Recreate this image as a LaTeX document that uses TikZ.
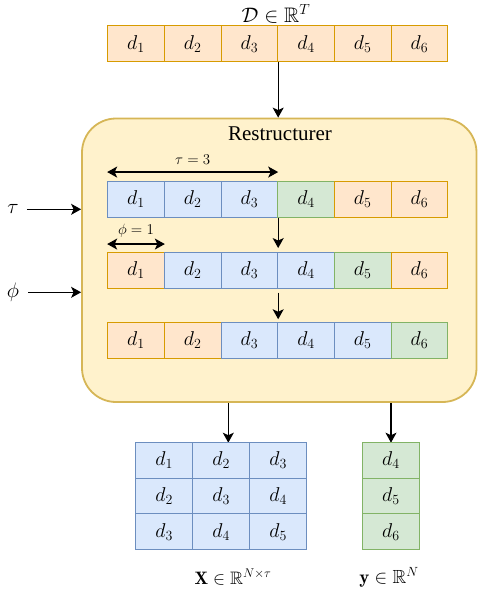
\RequirePackage{fix-cm}
\documentclass[tikz,border=0pt]{standalone}
\usepackage{amssymb}
\usepackage{fontspec}
\newfontfamily\timesf{Liberation Serif}
\usetikzlibrary{arrows.meta,calc}
\definecolor{orF}{HTML}{FFE6CC}\definecolor{orD}{HTML}{D79B00}
\definecolor{blF}{HTML}{DAE8FC}\definecolor{blD}{HTML}{6C8EBF}
\definecolor{grF}{HTML}{D5E8D4}\definecolor{grD}{HTML}{82B366}
\definecolor{yeF}{HTML}{FFF2CC}\definecolor{yeD}{HTML}{D6B656}
\begin{document}
\begin{tikzpicture}[x=1pt,y=-1pt,
 cell/.style={minimum width=56.67pt,minimum height=35.5pt,inner sep=0pt,line width=1pt,font=\fontsize{20}{22}\selectfont},
 oc/.style={cell,fill=orF,draw=orD},
 bc/.style={cell,fill=blF,draw=blD},
 gc/.style={cell,fill=grF,draw=grD},
 arr/.style={-{Stealth[length=10pt,width=11pt,inset=2.5pt]},line width=1.2pt},
 darr/.style={{Stealth[length=10pt,width=11pt,inset=2.5pt]}-{Stealth[length=10pt,width=11pt,inset=2.5pt]},line width=1.2pt},
 lab/.style={font=\fontsize{19}{22}\selectfont,inner sep=0pt},
 small/.style={font=\fontsize{15}{17}\selectfont,inner sep=0pt}]
\useasboundingbox (0,0) rectangle (478,595);
% restructurer box
\node[draw=yeD,fill=yeF,line width=1.8pt,rounded corners=34pt,minimum width=394.5pt,minimum height=283.5pt,inner sep=0pt] (restr) at (279.25,260.25) {};
\node[lab,font=\timesf\fontsize{21}{23}\selectfont] (title) at (280,134) {Restructurer};
% top row
\node[lab,font=\fontsize{21}{23}\selectfont] (dlab) at (276,14) {$\mathcal{D}\in\mathbb{R}^T$};
\foreach \s [count=\i] in {oc,oc,oc,oc,oc,oc}
  \node[\s] (t\i) at ({107.67+56.67*(\i-0.5)},43.7) {$d_{\i}$};
% row 1
\foreach \s [count=\i] in {bc,bc,bc,gc,oc,oc}
  \node[\s] (a\i) at ({107.67+56.67*(\i-0.5)},199.3) {$d_{\i}$};
% row 2
\foreach \s [count=\i] in {oc,bc,bc,bc,gc,oc}
  \node[\s] (b\i) at ({107.67+56.67*(\i-0.5)},270.3) {$d_{\i}$};
% row 3
\foreach \s [count=\i] in {oc,oc,bc,bc,bc,gc}
  \node[\s] (c\i) at ({107.67+56.67*(\i-0.5)},340.5) {$d_{\i}$};
% arrows
\draw[arr] (t3.south east) -- (t3.south east |- restr.north);
\draw[arr,shorten >=4pt] (a3.south east) -- (b3.north east);
\draw[arr,shorten <=4pt,shorten >=3pt] (b3.south east) -- (c3.north east);
\draw[darr] ([yshift=9pt]a1.north west) -- node[small,above=7pt] (taueq) {$\tau=3$} ([yshift=9pt]a3.north east);
\draw[darr] ([yshift=8pt]b1.north west) -- node[small,above=6pt] (phieq) {$\phi=1$} ([yshift=8pt]b1.north east);
% left inputs
\node[lab,font=\fontsize{21}{23}\selectfont] (taul) at (13,209.3) {$\tau$};
\node[lab,font=\fontsize{21}{23}\selectfont] (phil) at (13,292.3) {$\phi$};
\draw[arr] ([xshift=8pt]taul.east) -- (taul.east -| restr.west);
\draw[arr] ([xshift=9pt]phil.east) -- (phil.east -| restr.west);
% outputs
\coordinate (xin) at (228.3,442.7);
\coordinate (yin) at (391,442.7);
\draw[arr] (xin |- restr.south) -- (xin);
\draw[arr] (yin |- restr.south) -- (yin);
% matrix X
\foreach \r in {1,2,3}
  \foreach \c in {1,2,3}{
    \pgfmathtruncatemacro\k{\r+\c-1}
    \node[bc,minimum width=57pt] (x\r\c) at ({135.7+57*(\c-0.5)},{442.7+35.55*(\r-0.5)}) {$d_{\k}$};
  }
% vector y
\foreach \r in {1,2,3}{
  \pgfmathtruncatemacro\k{\r+3}
  \node[gc,minimum width=57.7pt,minimum height=35.55pt] (y\r) at (391,{442.7+35.55*(\r-0.5)}) {$d_{\k}$};
}
\node[lab,font=\fontsize{18}{20}\selectfont] (xlab) at (233,577) {$\mathbf{X}\in\mathbb{R}^{N\times\tau}$};
\node[lab,font=\fontsize{19}{21}\selectfont] (ylab) at (389,577) {$\mathbf{y}\in\mathbb{R}^{N}$};
\end{tikzpicture}
\end{document}
